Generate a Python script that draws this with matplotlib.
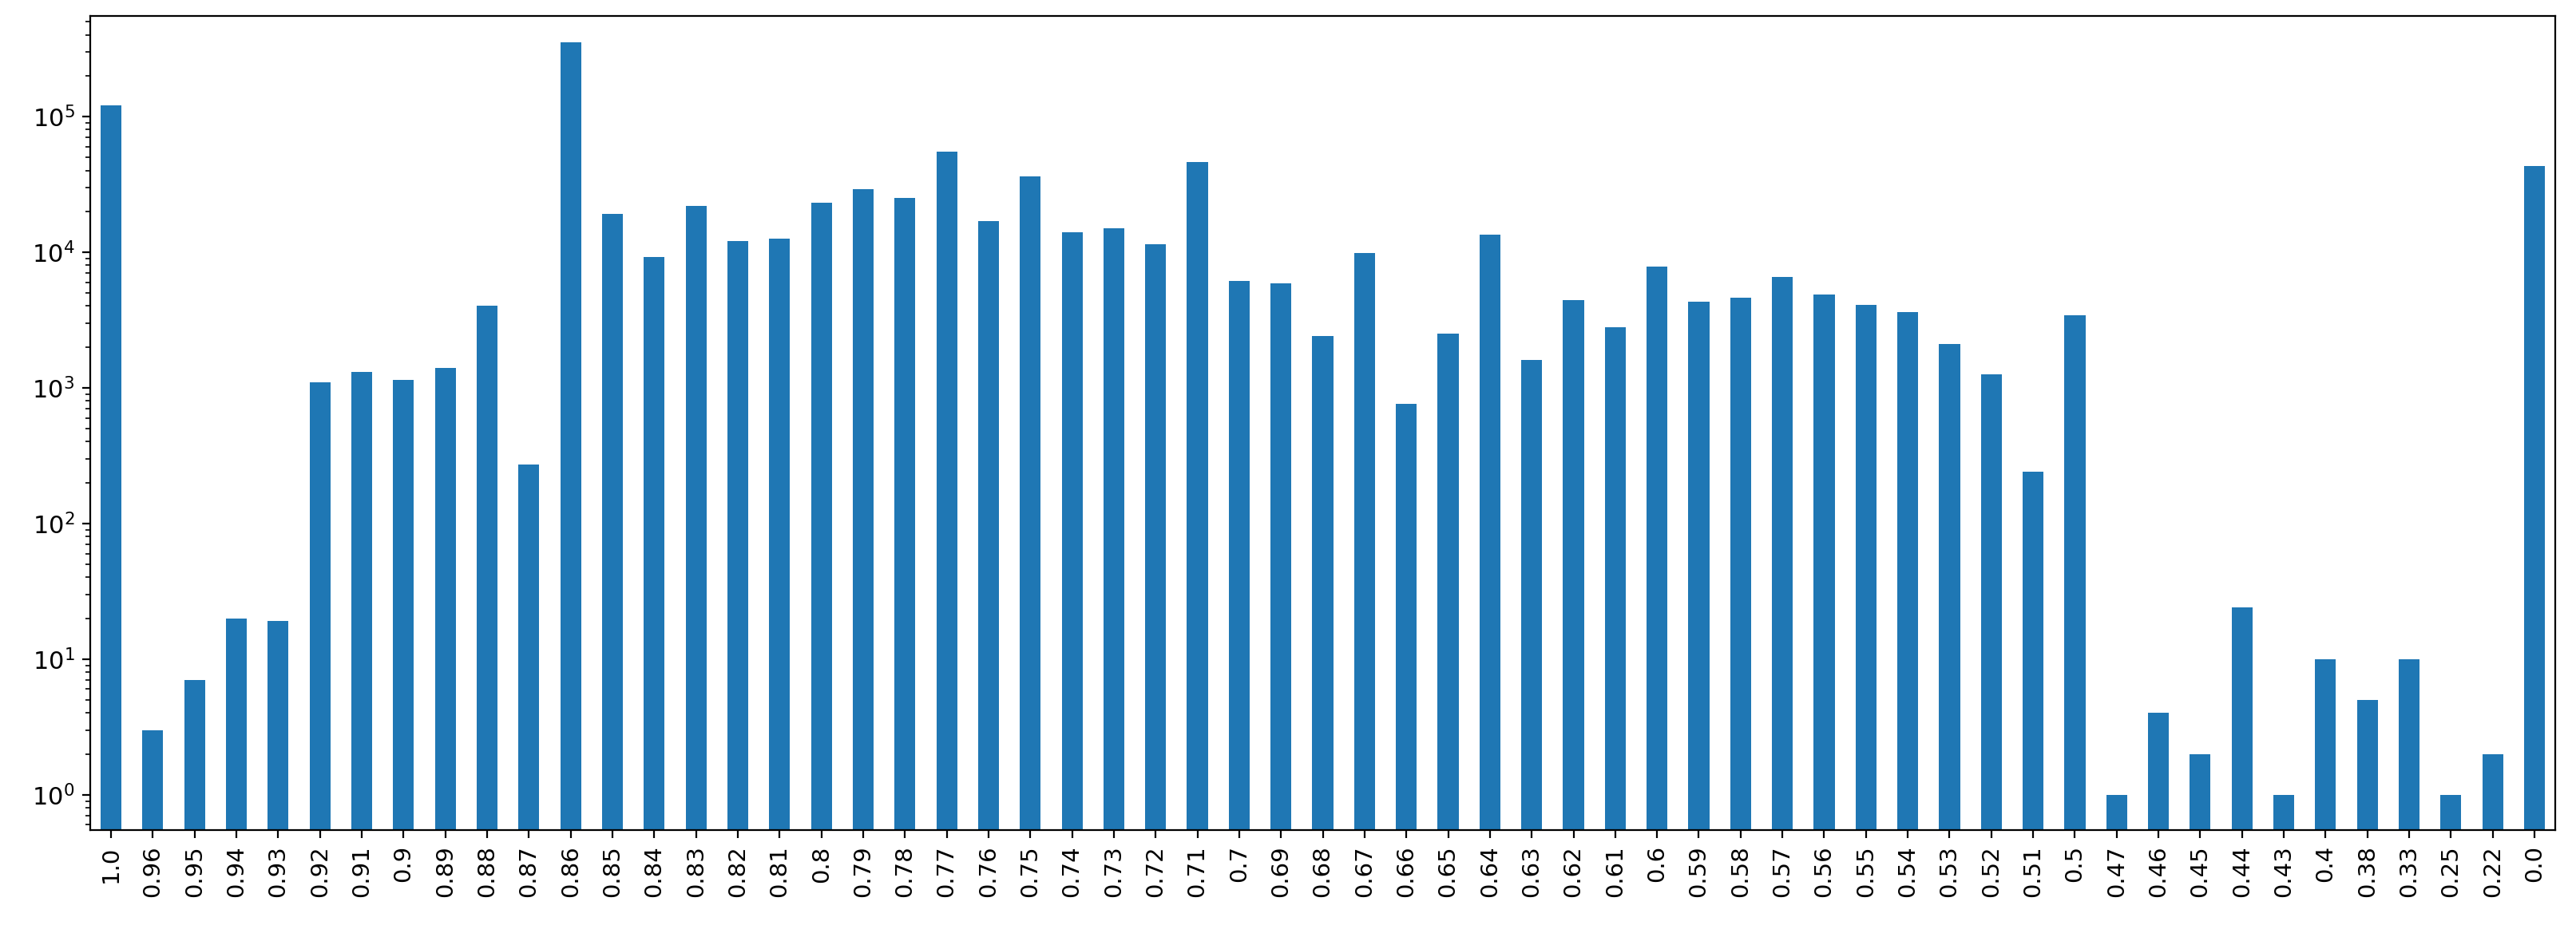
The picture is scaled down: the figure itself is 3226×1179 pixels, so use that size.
import matplotlib
matplotlib.use("Agg")
import matplotlib.pyplot as plt
import numpy as np

labels = ["1.0", "0.96", "0.95", "0.94", "0.93", "0.92", "0.91", "0.9", "0.89", "0.88",
          "0.87", "0.86", "0.85", "0.84", "0.83", "0.82", "0.81", "0.8", "0.79", "0.78",
          "0.77", "0.76", "0.75", "0.74", "0.73", "0.72", "0.71", "0.7", "0.69", "0.68",
          "0.67", "0.66", "0.65", "0.64", "0.63", "0.62", "0.61", "0.6", "0.59", "0.58",
          "0.57", "0.56", "0.55", "0.54", "0.53", "0.52", "0.51", "0.5", "0.47", "0.46",
          "0.45", "0.44", "0.43", "0.4", "0.38", "0.33", "0.25", "0.22", "0.0"]
counts = [120000, 3, 7, 20, 19, 1100, 1300, 1150, 1400, 4000,
          270, 350000, 19000, 9200, 22000, 12000, 12500, 23000, 29000, 25000,
          55000, 17000, 36000, 14000, 15000, 11500, 46000, 6100, 5900, 2400,
          9800, 760, 2500, 13500, 1600, 4400, 2800, 7800, 4300, 4600,
          6600, 4900, 4100, 3600, 2100, 1250, 240, 3400, 1, 4,
          2, 24, 1, 10, 5, 10, 1, 2, 43000]

fig = plt.figure(figsize=(16.13, 5.895), dpi=200)
ax = fig.add_axes([0.035, 0.118, 0.957, 0.865])
x = np.arange(len(labels))
ax.bar(x, counts, width=0.5, color="#1f77b4")
ax.set_yscale("log")
ax.set_ylim(0.55, 5.5e5)
ax.set_xlim(-0.5, len(labels) - 0.5)
ax.set_xticks(x)
ax.set_xticklabels(labels, rotation=90, fontsize=10.5)
ax.tick_params(axis="y", labelsize=11)
fig.savefig("out.png")
